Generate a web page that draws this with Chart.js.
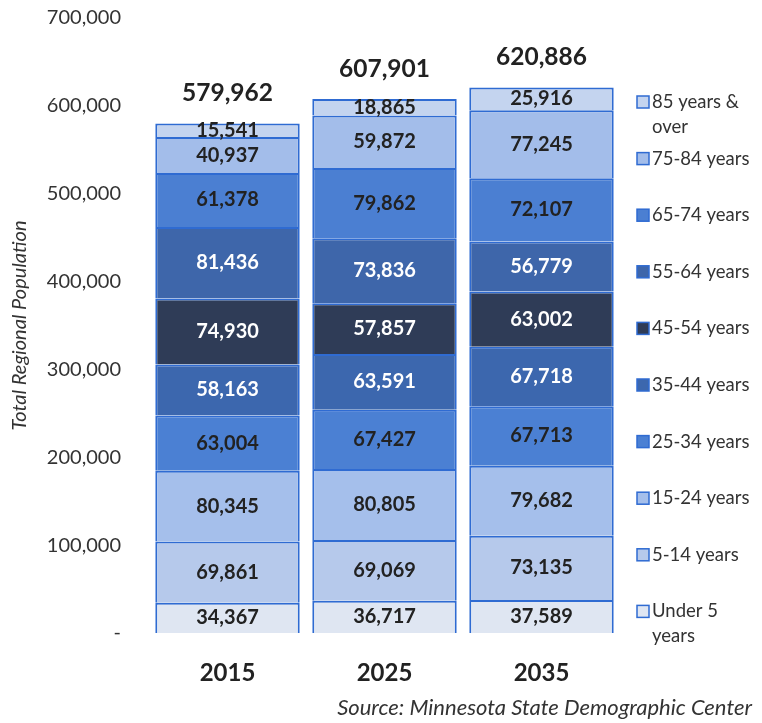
<!DOCTYPE html>
<html>
<head>
<meta charset="utf-8">
<script src="https://cdn.jsdelivr.net/npm/chart.js@4/dist/chart.umd.min.js"></script>
<style>
  html, body { margin: 0; padding: 0; background: #fff; }
  #wrap { position: relative; width: 762px; height: 723px; }
</style>
</head>
<body>
<div id="wrap"><canvas id="chart"></canvas></div>
<script>
// Datos por grupo de edad (de abajo hacia arriba en la pila)
const years = ['2015', '2025', '2035'];
const ageGroups = ['Under 5 years', '5-14 years', '15-24 years', '25-34 years', '35-44 years',
                   '45-54 years', '55-64 years', '65-74 years', '75-84 years', '85 years & over'];
const under5    = [34367, 36717, 37589];
const age5to14  = [69861, 69069, 73135];
const age15to24 = [80345, 80805, 79682];
const age25to34 = [63004, 67427, 67713];
const age35to44 = [58163, 63591, 67718];
const age45to54 = [74930, 57857, 63002];
const age55to64 = [81436, 73836, 56779];
const age65to74 = [61378, 79862, 72107];
const age75to84 = [40937, 59872, 77245];
const age85plus = [15541, 18865, 25916];
const totals    = [579962, 607901, 620886];
const yTicks    = [0, 100000, 200000, 300000, 400000, 500000, 600000, 700000];

const series = [under5, age5to14, age15to24, age25to34, age35to44,
                age45to54, age55to64, age65to74, age75to84, age85plus];
const fills = ['#dfe6f2', '#b6c9eb', '#a5bfeb', '#4b80d3', '#3c67ae',
               '#2f3c57', '#3e66aa', '#4b7fd2', '#a3bdea', '#c4d4ef'];
const labelColors = ['#222', '#222', '#222', '#222', '#fff', '#fff', '#fff', '#222', '#222', '#222'];
const legendLines = [['Under 5', 'years'], ['5-14 years'], ['15-24 years'], ['25-34 years'], ['35-44 years'],
                     ['45-54 years'], ['55-64 years'], ['65-74 years'], ['75-84 years'], ['85 years &', 'over']];

const fmt = n => n.toLocaleString('en-US');
const FONT = 'Lato, Calibri, "Open Sans", sans-serif';

// Etiquetas de valores dentro de cada segmento y totales arriba
const valueLabels = {
    id: 'valueLabels',
    afterDatasetsDraw(chart) {
        const ctx = chart.ctx;
        ctx.save();
        ctx.textAlign = 'center';
        ctx.textBaseline = 'middle';
        chart.data.datasets.forEach((ds, i) => {
            const meta = chart.getDatasetMeta(i);
            ctx.font = 'bold 20px ' + FONT;
            ctx.fillStyle = labelColors[i];
            meta.data.forEach((bar, j) => {
                ctx.fillText(fmt(ds.data[j]), bar.x, (bar.y + bar.base) / 2);
            });
        });
        const yScale = chart.scales.y;
        const top = chart.getDatasetMeta(series.length - 1);
        ctx.font = 'bold 24.5px ' + FONT;
        ctx.fillStyle = '#222';
        top.data.forEach((bar, j) => {
            ctx.fillText(fmt(totals[j]), bar.x, yScale.getPixelForValue(totals[j]) - 30);
        });
        ctx.restore();
    }
};

// Leyenda a la derecha, de 85+ arriba a Under 5 abajo
const sideLegend = {
    id: 'sideLegend',
    afterDraw(chart) {
        const ctx = chart.ctx;
        const x = chart.chartArea.right + 17;
        ctx.save();
        ctx.font = '18.5px ' + FONT;
        ctx.textBaseline = 'middle';
        ctx.textAlign = 'left';
        for (let k = 0; k < series.length; k++) {
            const i = series.length - 1 - k;
            const y = 102 + k * 56.6;
            ctx.fillStyle = fills[i];
            ctx.fillRect(x, y - 6, 12, 12);
            ctx.strokeStyle = '#2f6bd2';
            ctx.lineWidth = 1.5;
            ctx.strokeRect(x, y - 6, 12, 12);
            ctx.fillStyle = '#333';
            legendLines[i].forEach((line, l) => ctx.fillText(line, x + 15, y + l * 25));
        }
        ctx.font = 'italic 22px ' + FONT;
        ctx.textAlign = 'right';
        ctx.fillStyle = '#333';
        ctx.fillText('Source: Minnesota State Demographic Center', 752, 708);
        ctx.restore();
    }
};

const ctx = document.getElementById('chart').getContext('2d');
new Chart(ctx, {
    type: 'bar',
    data: {
        labels: years,
        datasets: series.map((data, i) => ({
            label: ageGroups[i],
            data: data,
            backgroundColor: fills[i],
            borderColor: '#2f6bd2',
            borderWidth: 2,
            barPercentage: 0.92,
            categoryPercentage: 1
        }))
    },
    options: {
        responsive: true,
        maintainAspectRatio: false,
        animation: false,
        layout: { padding: { top: 18, right: 142, bottom: 30, left: 0 } },
        plugins: {
            legend: { display: false },
            tooltip: { enabled: false }
        },
        scales: {
            x: {
                stacked: true,
                grid: { display: false },
                border: { display: false },
                ticks: { color: '#222', font: { family: FONT, size: 24, weight: 'bold' }, padding: 18 },
                afterFit: s => { s.height = 60; s.paddingLeft = 0; s.paddingRight = 0; }
            },
            y: {
                stacked: true,
                min: 0,
                max: 700000,
                afterBuildTicks: s => { s.ticks = yTicks.map(v => ({ value: v })); },
                grid: { display: false },
                border: { display: false },
                ticks: {
                    color: '#333',
                    font: { family: FONT, size: 20 },
                    padding: 20,
                    callback: v => v === 0 ? '-' : fmt(v)
                },
                title: {
                    display: true,
                    text: 'Total Regional Population',
                    color: '#333',
                    font: { family: FONT, size: 20, style: 'italic' },
                    padding: { top: 8, bottom: 0 }
                },
                afterFit: s => { s.width = 149; s.paddingTop = 0; s.paddingBottom = 0; }
            }
        }
    },
    plugins: [valueLabels, sideLegend]
});
</script>
</body>
</html>
